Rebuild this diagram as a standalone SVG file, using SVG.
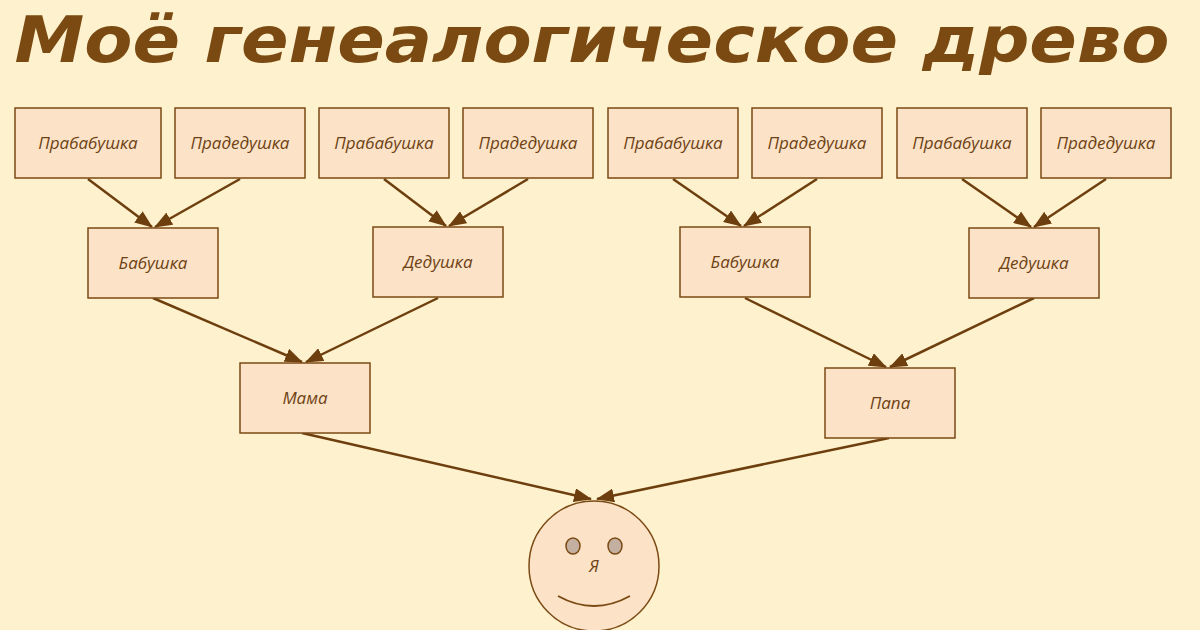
<svg xmlns="http://www.w3.org/2000/svg" width="1200" height="630" viewBox="0 0 1200 630">
<style>
.b{fill:#fce3c8;stroke:#7b4a14;stroke-width:1.5}
.t{font-family:"Open Sans","DejaVu Sans",sans-serif;font-style:italic;font-size:17px;fill:#6e4214;text-anchor:middle}
.c line{stroke:#6e3f0e;stroke-width:2.5}
</style>
<defs><marker id="a" markerWidth="10" markerHeight="10" refX="9" refY="5" orient="auto" markerUnits="userSpaceOnUse" viewBox="0 0 10 10"><path d="M0,0L10,5L0,10z" fill="#6e3f0e"/></marker>
<marker id="m" markerWidth="18" markerHeight="14" refX="17" refY="7" orient="auto" markerUnits="userSpaceOnUse"><path d="M0,0L18,7L0,14z" fill="#6e3f0e"/></marker></defs>
<rect width="1200" height="630" fill="#fef1cd"/>
<text x="592" y="62" font-family="'Comic Sans MS','DejaVu Sans',sans-serif" font-style="italic" font-weight="bold" font-size="64" fill="#7a4a12" text-anchor="middle" textLength="1155" lengthAdjust="spacingAndGlyphs">Моё генеалогическое древо</text>
<g class="c">
<line x1="88" y1="179" x2="152" y2="227" marker-end="url(#m)"/>
<line x1="240" y1="179" x2="155" y2="227" marker-end="url(#m)"/>
<line x1="384" y1="179" x2="446" y2="226" marker-end="url(#m)"/>
<line x1="528" y1="179" x2="449" y2="226" marker-end="url(#m)"/>
<line x1="673" y1="179" x2="741" y2="226" marker-end="url(#m)"/>
<line x1="817" y1="179" x2="744" y2="226" marker-end="url(#m)"/>
<line x1="962" y1="179" x2="1031" y2="227" marker-end="url(#m)"/>
<line x1="1106" y1="179" x2="1034" y2="227" marker-end="url(#m)"/>
<line x1="153" y1="298" x2="302" y2="362" marker-end="url(#m)"/>
<line x1="438" y1="298" x2="306" y2="362" marker-end="url(#m)"/>
<line x1="745" y1="298" x2="886" y2="367" marker-end="url(#m)"/>
<line x1="1034" y1="298" x2="890" y2="367" marker-end="url(#m)"/>
<line x1="302" y1="433" x2="591" y2="499" marker-end="url(#m)"/>
<line x1="889" y1="438" x2="597" y2="499" marker-end="url(#m)"/>
</g>
<g id="n1"><rect class="b" x="15" y="108" width="146" height="70"/><text class="t" x="88" y="149">Прабабушка</text></g>
<g id="n2"><rect class="b" x="175" y="108" width="130" height="70"/><text class="t" x="240" y="149">Прадедушка</text></g>
<g id="n3"><rect class="b" x="319" y="108" width="130" height="70"/><text class="t" x="384" y="149">Прабабушка</text></g>
<g id="n4"><rect class="b" x="463" y="108" width="130" height="70"/><text class="t" x="528" y="149">Прадедушка</text></g>
<g id="n5"><rect class="b" x="608" y="108" width="130" height="70"/><text class="t" x="673" y="149">Прабабушка</text></g>
<g id="n6"><rect class="b" x="752" y="108" width="130" height="70"/><text class="t" x="817" y="149">Прадедушка</text></g>
<g id="n7"><rect class="b" x="897" y="108" width="130" height="70"/><text class="t" x="962" y="149">Прабабушка</text></g>
<g id="n8"><rect class="b" x="1041" y="108" width="130" height="70"/><text class="t" x="1106" y="149">Прадедушка</text></g>
<g id="g1"><rect class="b" x="88" y="228" width="130" height="70"/><text class="t" x="153" y="269">Бабушка</text></g>
<g id="g2"><rect class="b" x="373" y="227" width="130" height="70"/><text class="t" x="438" y="268">Дедушка</text></g>
<g id="g3"><rect class="b" x="680" y="227" width="130" height="70"/><text class="t" x="745" y="268">Бабушка</text></g>
<g id="g4"><rect class="b" x="969" y="228" width="130" height="70"/><text class="t" x="1034" y="269">Дедушка</text></g>
<g id="mama"><rect class="b" x="240" y="363" width="130" height="70"/><text class="t" x="305" y="404">Мама</text></g>
<g id="papa"><rect class="b" x="825" y="368" width="130" height="70"/><text class="t" x="890" y="409">Папа</text></g>
<g id="me"><circle cx="594" cy="566" r="65" fill="#fce3c8" stroke="#7b4a14" stroke-width="1.5"/>
<ellipse cx="573" cy="546" rx="7" ry="8" fill="#c4b0a0" stroke="#7b4a14" stroke-width="1.5"/>
<ellipse cx="615" cy="546" rx="7" ry="8" fill="#c4b0a0" stroke="#7b4a14" stroke-width="1.5"/>
<text class="t" x="594" y="572" font-size="16">Я</text>
<path d="M558,596 Q594,616 630,596" fill="none" stroke="#7b4a14" stroke-width="2"/></g>
</svg>
